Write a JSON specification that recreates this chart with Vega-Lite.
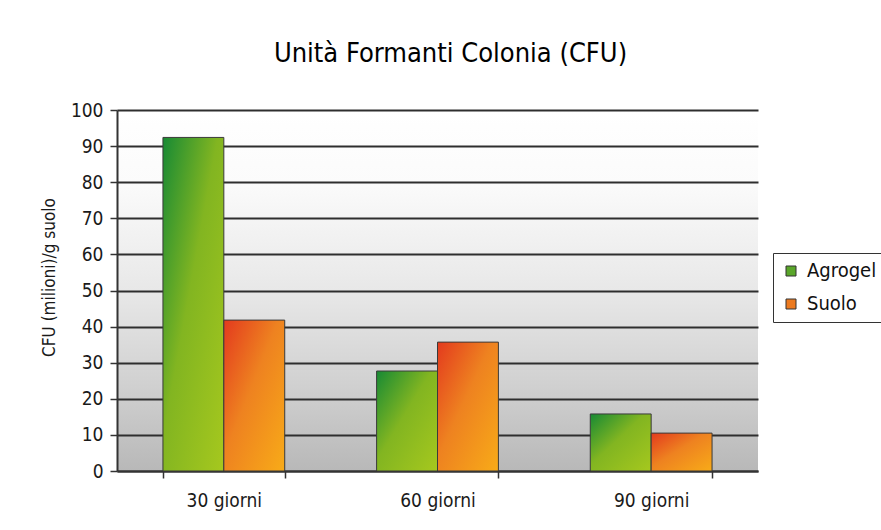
{
  "$schema": "https://vega.github.io/schema/vega-lite/v6.json",
  "width": 641,
  "height": 361,
  "autosize": {"type": "none"},
  "padding": {"left": 117, "top": 110, "right": 123, "bottom": 59},
  "background": "white",
  "title": {
    "text": "Unità Formanti Colonia (CFU)",
    "font": "DejaVu Sans Condensed",
    "fontSize": 27,
    "fontWeight": "normal",
    "color": "#000000",
    "offset": 33,
    "dx": 13
  },
  "data": {
    "values": [
      {"periodo": "30 giorni", "serie": "Agrogel", "cfu": 92.4},
      {"periodo": "30 giorni", "serie": "Suolo", "cfu": 41.8},
      {"periodo": "60 giorni", "serie": "Agrogel", "cfu": 27.7},
      {"periodo": "60 giorni", "serie": "Suolo", "cfu": 35.7},
      {"periodo": "90 giorni", "serie": "Agrogel", "cfu": 15.8},
      {"periodo": "90 giorni", "serie": "Suolo", "cfu": 10.5}
    ]
  },
  "encoding": {
    "x": {
      "field": "periodo",
      "type": "nominal",
      "sort": ["30 giorni", "60 giorni", "90 giorni"],
      "scale": {"paddingInner": 0.43, "paddingOuter": 0.215},
      "axis": {
        "title": null,
        "labelAngle": 0,
        "labelFont": "DejaVu Sans Condensed",
        "labelFontSize": 19,
        "labelColor": "#1a1a1a",
        "labelPadding": 13,
        "tickBand": "extent",
        "tickColor": "#333333",
        "tickSize": 7,
        "tickWidth": 1.5,
        "domainColor": "#333333",
        "domainWidth": 2,
        "grid": false
      }
    },
    "xOffset": {"field": "serie", "sort": ["Agrogel", "Suolo"], "scale": {"domain": ["Agrogel", "Suolo"]}},
    "y": {
      "field": "cfu",
      "type": "quantitative",
      "scale": {"domain": [0, 100], "nice": false},
      "axis": {
        "title": "CFU (milioni)/g suolo",
        "titleFont": "DejaVu Sans Condensed",
        "titleFontSize": 17,
        "titleFontWeight": "normal",
        "titleColor": "#1a1a1a",
        "titlePadding": 12,
        "titleY": 167,
        "values": [0, 10, 20, 30, 40, 50, 60, 70, 80, 90, 100],
        "labelFont": "DejaVu Sans Condensed",
        "labelFontSize": 19,
        "labelColor": "#1a1a1a",
        "labelPadding": 7,
        "tickColor": "#333333",
        "tickSize": 7,
        "tickWidth": 1.5,
        "domainColor": "#333333",
        "domainWidth": 2,
        "gridColor": "#2e2e2e",
        "gridWidth": 2
      }
    }
  },
  "layer": [
    {
      "transform": [{"filter": "datum.serie === 'Agrogel'"}],
      "mark": {
        "type": "bar", "stroke": "#3a3a3a", "strokeWidth": 1,
        "fill": {"gradient": "linear", "x1": 0, "y1": 0, "x2": 1, "y2": 1, "stops": [{"offset": 0, "color": "#178a34"}, {"offset": 0.45, "color": "#82b521"}, {"offset": 1, "color": "#a6c81e"}]}
      }
    },
    {
      "transform": [{"filter": "datum.serie === 'Suolo'"}],
      "mark": {
        "type": "bar", "stroke": "#3a3a3a", "strokeWidth": 1,
        "fill": {"gradient": "linear", "x1": 0, "y1": 0, "x2": 1, "y2": 1, "stops": [{"offset": 0, "color": "#e33a1e"}, {"offset": 0.45, "color": "#ee8220"}, {"offset": 1, "color": "#f8ab18"}]}
      }
    },
    {
      "mark": {"type": "bar", "opacity": 0},
      "encoding": {
        "color": {
          "field": "serie",
          "type": "nominal",
          "scale": {"domain": ["Agrogel", "Suolo"], "range": ["#5aa62a", "#ec7a20"]},
          "legend": {
            "title": null,
            "orient": "none",
            "legendX": 656,
            "legendY": 143,
            "strokeColor": "#333333",
            "padding": 8,
            "labelFont": "DejaVu Sans Condensed",
            "labelFontSize": 20,
            "labelColor": "#111111",
            "symbolType": "square",
            "symbolSize": 100,
            "symbolOpacity": 1,
            "symbolStrokeColor": "#333333",
            "symbolStrokeWidth": 1,
            "rowPadding": 13,
            "labelOffset": 6
          }
        }
      }
    }
  ],
  "config": {
    "view": {
      "stroke": null,
      "fill": {"gradient": "linear", "x1": 0, "y1": 0, "x2": 0, "y2": 1, "stops": [{"offset": 0, "color": "#ffffff"}, {"offset": 0.2, "color": "#fbfbfb"}, {"offset": 0.5, "color": "#e8e8e8"}, {"offset": 0.8, "color": "#cdcdcd"}, {"offset": 1, "color": "#b8b8b8"}]}
    }
  }
}
